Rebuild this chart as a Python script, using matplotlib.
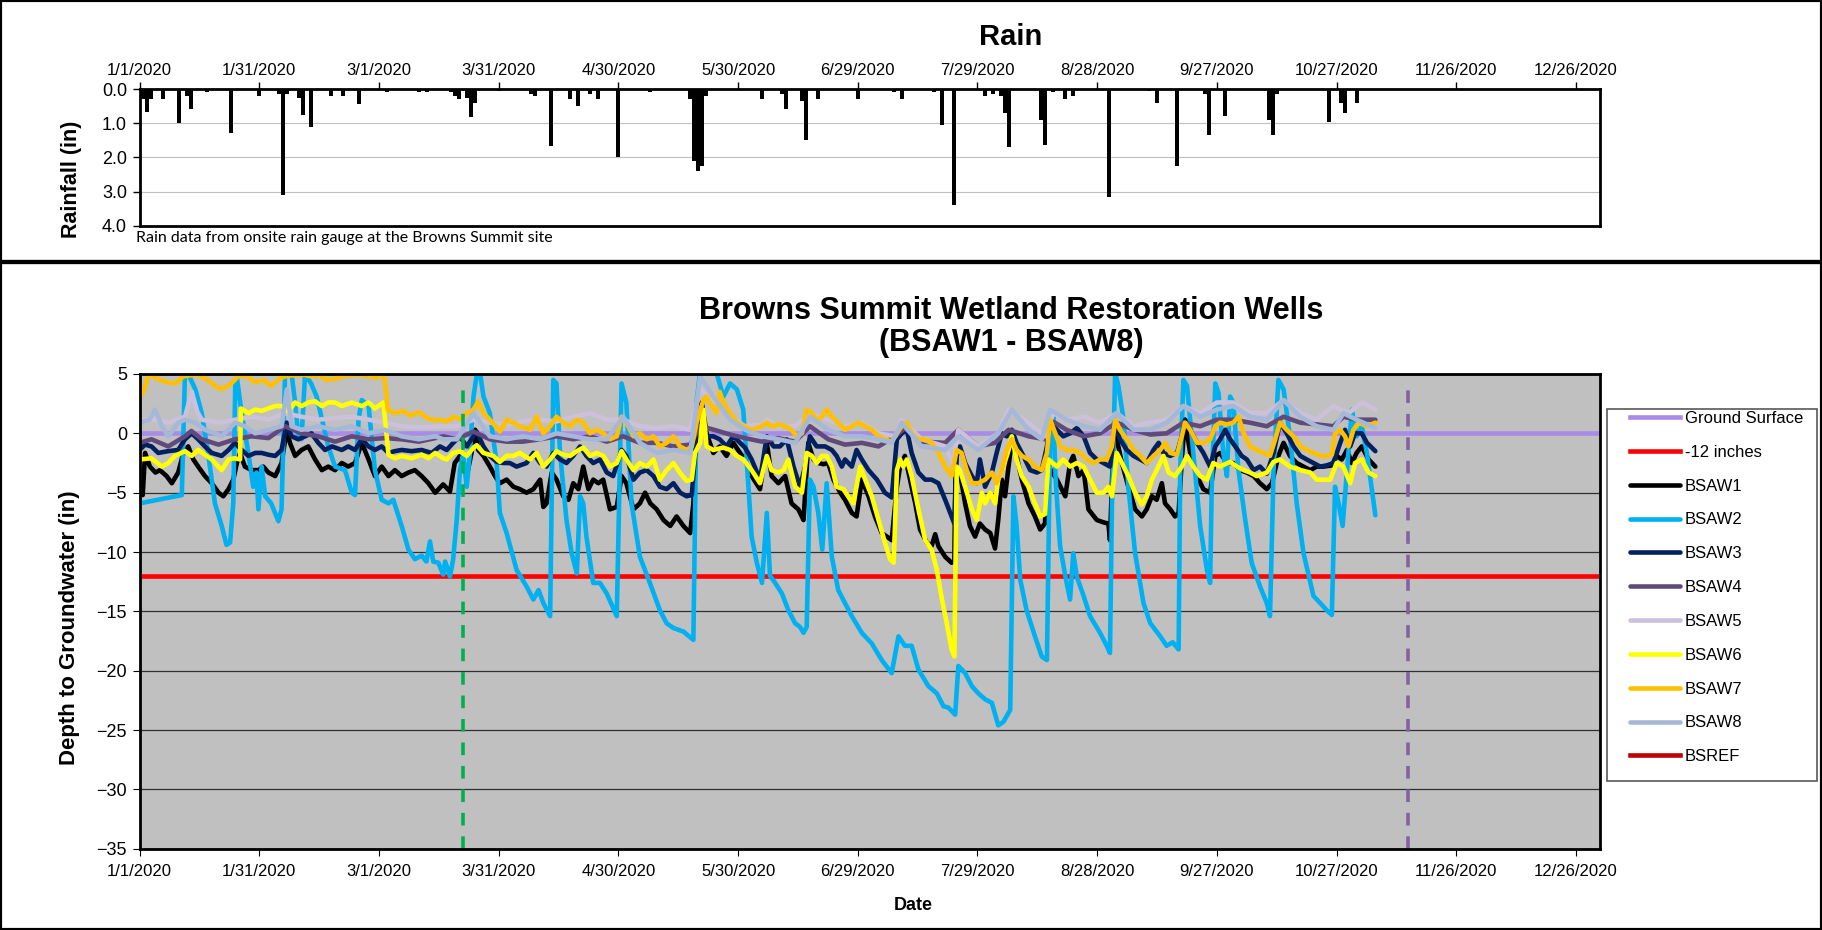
import matplotlib
matplotlib.use("Agg")
import matplotlib.pyplot as plt
from matplotlib.patches import Rectangle
import pandas as pd

plt.rcParams['font.family'] = ['Liberation Sans', 'DejaVu Sans']

W, H = 1822, 930
start = pd.Timestamp('2020-01-01')
end = pd.Timestamp('2021-01-01')

# rain, days since 1/1/2020 and inches
rain_day = [0, 1, 2, 3, 6, 10, 12, 13, 17, 23, 30, 35, 36, 37, 40, 41, 43, 48, 51, 55,
            62, 70, 72, 78, 79, 80, 82, 83, 84, 90, 98, 99, 103, 108, 110, 113, 115, 120,
            124, 128, 138, 139, 140, 141, 142, 146, 156, 161, 162, 166, 167, 170, 180, 189,
            191, 199, 201, 204, 212, 214, 216, 217, 218, 226, 227, 229, 232, 234, 242, 243,
            253, 255, 260, 267, 268, 272, 283, 284, 285, 289, 298, 301, 302, 305]
rain_in = [0.3, 0.3, 0.68, 0.3, 0.28, 1.0, 0.2, 0.58, 0.1, 1.3, 0.2, 0.15, 3.1, 0.15, 0.25, 0.75, 1.1, 0.2, 0.2, 0.45,
           0.08, 0.08, 0.08, 0.08, 0.2, 0.3, 0.25, 0.83, 0.4, 0.05, 0.15, 0.2, 1.68, 0.3, 0.5, 0.15, 0.28, 2.0,
           0.03, 0.08, 0.3, 2.1, 2.4, 2.25, 0.2, 0.03, 0.3, 0.15, 0.58, 0.35, 1.5, 0.3, 0.3, 0.08,
           0.3, 0.1, 1.05, 3.4, 0.2, 0.15, 0.2, 0.7, 1.7, 0.9, 1.65, 0.08, 0.28, 0.2, 0.03, 3.15,
           0.05, 0.4, 2.25, 0.15, 1.35, 0.8, 0.9, 1.35, 0.15, 0.02, 0.98, 0.4, 0.7, 0.4]

# wells, days since 1/1/2020 and depth to groundwater (in)
bsaw1_day = [0, 0.8, 1.4, 2.6, 4, 5.1, 6.8, 8.1, 9.7, 11, 12.2, 13.5, 14.7, 16.4, 18.1, 19.8, 21, 22.3, 23.5, 24.4,
             25.2, 26.4, 28.1, 29.8, 31, 32.3, 34, 35.6, 36.9, 37.7, 39, 40.6, 42.3, 44, 45.7, 47.3, 49, 50.7, 52.3, 54,
             55.7, 57.4, 59, 60.7, 62.4, 64, 65.7, 67.4, 69, 70.7, 72.4, 74.1, 76.1, 77.8, 79, 80.3, 82, 83.2, 84.1, 84.9,
             86.2, 87.8, 89.1, 90.3, 92, 93.7, 95.3, 97, 98.7, 100.4, 101.2, 102, 103.3, 104.5, 106.2, 107.5, 108.7, 110, 111.2, 112.5,
             113.7, 115, 116.2, 117.9, 119.6, 120.8, 122, 123.8, 125.4, 126.7, 128, 129.6, 131.3, 133, 134.6, 136.3, 138, 138.8, 139.6, 140.9,
             142.1, 143.8, 145.4, 147.1, 148.8, 150.5, 151.75, 153.4, 155.5, 157.2, 158.4, 160.1, 161.8, 163.4, 165.1, 166.4, 167.6, 168.9, 170.1, 171.4,
             172.6, 173.9, 175.6, 176.8, 178.5, 179.7, 181, 182.7, 184.3, 186, 187.3, 188.5, 189.8, 190.6, 191.8, 193.1, 194.4, 195.6, 197.3, 198.5,
             199.4, 200.2, 201.9, 203.5, 204.2, 204.5, 205.6, 206.9, 208.1, 209.4, 210.6, 211.9, 213.2, 214.4, 215.2, 216.1, 216.9, 217.8, 218.6, 219.8,
             221.1, 222.8, 224.4, 225.7, 226.9, 227.8, 229.9, 232, 233.2, 234, 235.3, 236.6, 237.8, 239.9, 241.6, 242.8, 243.2, 244.1, 244.9,
             246.2, 247.8, 249.5, 251.2, 252.4, 253.7, 254.9, 256.2, 257, 258.3, 259.5, 260.4, 261.2, 262, 263.3, 265, 266.6, 268.3, 269.6, 270.8,
             272.5, 274.1, 275.8, 277.5, 279.2, 280.8, 282.5, 283.8, 285.4, 286.7, 288.3, 290, 291.7, 293.4, 295, 296.7, 298.8, 300, 301.3, 302.6,
             303.8, 305, 306.3, 308, 309.7]
bsaw1_in = [-5.0, -5.2, -1.65, -2.8, -3.3, -3.1, -3.6, -4.2, -3.3, -1.65, -1.1, -2.2, -2.8, -3.6, -4.2, -5.0, -5.3, -4.7, -3.9, -2.5,
            -1.65, -2.8, -3.1, -3.1, -2.8, -3.3, -3.6, -2.5, 0.3, -0.8, -1.9, -1.4, -1.1, -2.2, -3.1, -2.8, -3.1, -2.5, -2.8, -2.5,
            -0.8, -2.2, -3.6, -2.8, -3.6, -3.1, -3.6, -3.3, -3.1, -3.6, -4.2, -5.0, -4.3, -4.9, -2.5, -1.9, -3.6, -1.65, 0.3, -1.4,
            -1.9, -2.8, -3.6, -4.2, -3.9, -4.5, -4.7, -5.0, -4.7, -3.9, -6.2, -5.9, -3.3, -3.9, -5.3, -5.6, -4.2, -4.7, -2.8, -4.7,
            -3.9, -4.2, -3.9, -6.4, -6.2, -3.6, -4.2, -6.4, -5.9, -5.0, -5.9, -6.4, -7.3, -7.8, -7.0, -7.8, -8.4, -5.9, -0.25, 2.6,
            0.0, -1.65, -1.1, -1.9, -0.8, -1.65, -2.2, -3.6, -4.7, -0.8, -3.6, -4.2, -3.6, -5.9, -6.4, -7.3, -0.8, -2.2, -2.5, -2.6,
            -2.5, -3.9, -5.0, -5.6, -6.7, -7.0, -3.9, -5.3, -7.0, -8.4, -8.7, -9.0, -4.5, -2.8, -1.9, -3.9, -5.9, -8.1, -9.2, -9.5,
            -8.5, -9.5, -10.4, -10.9, -10.8, -2.8, -3.3, -5.9, -7.8, -8.7, -7.6, -8.1, -8.4, -9.7, -7.3, -3.9, -5.3, -2.8, -0.5, -1.9,
            -3.9, -5.9, -7.0, -8.1, -7.6, -2.8, -3.9, -5.3, -2.5, -1.9, -3.6, -3.1, -6.4, -7.3, -7.5, -7.6, -9.0, -0.25, -0.5,
            -2.5, -4.5, -6.4, -7.0, -6.4, -5.3, -5.6, -4.2, -5.9, -6.4, -7.0, -6.7, -2.2, 1.15, -1.65, -3.6, -4.7, -5.0, -1.9, -1.65,
            -2.5, -2.5, -3.1, -3.3, -3.6, -4.2, -4.7, -4.2, -1.9, -0.8, -1.9, -2.5, -2.8, -3.1, -2.8, -2.8, -2.7, -1.9, -2.2, -1.4,
            -2.5, -1.65, -1.1, -2.2, -2.8]

bsaw2_day = [0, 10.6, 11.4, 12.5, 14, 15.6, 17.2, 18.9, 20.6, 21.8, 22.7, 23.5, 24, 24.4, 25.6, 27.3, 28.5, 29.3, 29.8, 30.6,
             31.5, 33, 34.8, 35.6, 36.5, 38, 39, 39.8, 40.6, 41.5, 43, 44.4, 45.7, 47.3, 49, 51.5, 53.2, 54, 54.9, 55.7,
             57.4, 59, 60.7, 62.4, 63.6, 65.7, 67.4, 69, 70.7, 71.9, 72.8, 73.6, 74.9, 76.1, 76.6, 77.8, 78.6, 79.5, 80.3, 81.1,
             82, 82.8, 83.7, 84.5, 85.3, 86.2, 87.8, 89.5, 90.3, 92, 94.5, 97, 98.7, 100, 101.2, 102.9, 103.7, 104.5, 105.4, 107,
             108.3, 109.6, 110.4, 111.2, 112, 113.7, 115.4, 117.1, 119.6, 120.8, 122, 123.3, 125.4, 127.9, 130.4, 132.1, 133.8, 136.3, 138.8, 139.6,
             140.5, 143, 144.6, 146.3, 148, 149.7, 151.3, 152.6, 153.4, 154.7, 156, 157.2, 158, 159.3, 161, 162.6, 164.3, 165.5, 166.4, 167.2,
             168, 168.9, 170.1, 171.1, 172.2, 173.5, 175.1, 176.8, 178.5, 181, 183.5, 186, 188.5, 190.2, 191.8, 193.5, 195.2, 197.7, 199.8, 201.5,
             202.7, 204.4, 205.2, 206.9, 208.6, 210.2, 211.9, 213.6, 215.2, 216.5, 218.2, 219, 219.8, 220.7, 222.3, 224.4, 226.1, 227.4, 228.2, 229,
             229.6, 230.7, 232, 233.2, 234, 234.9, 236.6, 238.2, 240.7, 242.4, 243.2, 243.7, 244.5, 245.3, 246.6, 247.8, 249.5, 251.6, 253.3, 255.8,
             257.4, 258.9, 260.4, 260.8, 261.6, 262.5, 264.1, 265.8, 267.5, 268.3, 268.7, 269.6, 270.4, 271.6, 272.5, 273.3, 274.1, 275.4, 277.1, 278.7,
             280.8, 282.5, 283.3, 284.2, 285.4, 286.7, 288.3, 290, 291.7, 294.2, 295.9, 297.5, 298.8, 299.6, 300.5, 301.5, 302.6, 303.8, 305, 306.3,
             307.6, 309.7]
bsaw2_in = [-5.9, -5.2, 5.1, 4.8, 3.7, 1.7, -1.7, -5.9, -7.8, -9.4, -9.2, -5.9, 4.2, 4.7, 1.7, -1.7, -4.5, -3.3, -6.4, -2.8,
            -5.3, -5.9, -7.4, -6.4, 5.3, 5.3, 2.6, -0.3, -0.5, 5.0, 4.2, 3.1, 1.2, -1.1, -2.8, -3.1, -5.0, -5.2, 1.2, 2.8,
            2.3, -3.1, -5.6, -5.9, -5.6, -7.8, -9.8, -10.6, -10.3, -10.8, -9.1, -10.8, -10.9, -11.9, -10.8, -12.05, -10.6, -7.3, -3.1, -1.7,
            -4.5, -1.7, 3.1, 4.9, 5.2, 3.1, 1.7, -2.5, -6.7, -8.4, -11.5, -12.9, -14.0, -13.2, -14.3, -15.4, 4.5, 4.2, -1.7, -7.3,
            -10.1, -11.8, -5.3, -5.9, -8.7, -12.6, -12.6, -13.5, -15.4, 4.2, 2.6, -5.9, -10.4, -12.6, -14.9, -16.0, -16.4, -16.7, -17.4, 2.6,
            5.2, 5.5, 5.1, 3.1, 4.2, 3.7, 2.0, -4.5, -8.7, -10.9, -12.6, -6.7, -12.0, -12.6, -13.5, -14.9, -16.0, -16.3, -16.8, -16.3,
            -3.9, -4.5, -6.7, -9.8, -4.2, -10.4, -13.2, -14.3, -15.4, -16.8, -17.7, -19.1, -20.2, -17.1, -17.9, -17.9, -19.9, -21.3, -21.9, -23.0,
            -23.1, -23.7, -19.6, -20.2, -21.3, -21.9, -22.4, -22.7, -24.6, -24.3, -23.3, -5.3, -7.8, -12.3, -14.9, -17.1, -18.8, -19.1, -0.25, 1.5,
            -4.0, -9.5, -12.0, -14.0, -10.1, -12.1, -13.7, -15.4, -16.8, -17.9, -18.5, -5.9, 5.1, 4.0, 1.2, -4.5, -10.1, -14.3, -16.0, -17.1,
            -17.9, -17.6, -18.2, -3.1, 4.5, 4.0, -1.7, -7.8, -11.5, -12.6, -4.5, 4.2, 3.4, -1.7, -3.6, 3.1, 2.6, -3.1, -7.3, -10.9,
            -12.9, -14.3, -15.4, -3.1, 4.5, 3.7, -0.25, -5.9, -10.1, -13.7, -14.3, -14.9, -15.3, -4.5, -5.9, -7.8, -3.1, 2.0, -0.25, 0.6,
            -1.7, -6.9]

bsaw3_day = [0, 1.4, 3, 4.7, 7.2, 9.7, 11.4, 13.1, 14.7, 16.4, 18.1, 20.6, 22.3, 23.9, 25.6, 27.3, 29, 30.6, 32.3, 34,
             35.6, 36.9, 38.1, 39.8, 41.5, 43.1, 44.8, 46.5, 48.2, 50.7, 52.3, 54, 55.7, 57.4, 59, 60.7, 62.4, 64, 65.7, 68.2,
             70.7, 73.2, 75.3, 77, 78.6, 80.3, 82, 83.7, 84.5, 86.2, 87.8, 89.5, 91.2, 92.8, 94.5, 97, 98.7, 100.4, 102, 103.7,
             105.4, 107, 108.7, 110.4, 112, 113.7, 115.4, 117.1, 118.7, 120.8, 122, 123.8, 125.4, 127.1, 128.8, 130.4, 132.1, 133.8, 135.5, 137.1,
             138.4, 139.2, 140.5, 142.1, 143.8, 145.4, 147.1, 148.8, 150.5, 151.75, 153.4, 155.5, 157.2, 158.9, 160.5, 162.2, 163.9, 165.5, 166.8, 168,
             169.7, 171.8, 173.5, 174.7, 176, 176.8, 178.5, 179.7, 181, 182.7, 184.8, 186.8, 188.5, 189.8, 191, 192.3, 193.5, 195.2, 196.9, 198.5,
             200.2, 201.9, 203.5, 204.2, 204.8, 205.6, 206.9, 208.6, 209.8, 210.6, 211.9, 213.6, 214.8, 216.1, 217.3, 218.6, 219.8, 221.5, 223.2, 224.9,
             226.1, 227.4, 228.2, 229.9, 231.5, 233.2, 234.9, 236.6, 238.2, 239.9, 241.6, 243.2, 244.5, 245.7, 247.4, 249.1, 250.8, 252.4, 254.1, 255.4,
             256.6, 258.3, 260, 261.2, 262, 263.3, 265, 266.6, 268.3, 269.6, 270.8, 272.1, 273.3, 274.6, 276.2, 277.5, 279.2, 280.8, 282.5, 284.2,
             285.8, 287.5, 289.2, 290.9, 292.5, 294.2, 295.9, 297.5, 299.2, 300.9, 302.1, 303.4, 304.6, 306.3, 307.6, 309.7]
bsaw3_in = [-1.4, -0.95, -1.1, -1.65, -1.5, -1.4, -0.5, 0.0, -0.5, -1.1, -1.65, -1.9, -1.4, -0.8, -1.4, -1.9, -1.65, -1.65, -1.8, -1.9,
            -1.4, 0.9, -0.25, -0.5, -0.25, 0.0, -0.8, -1.4, -1.1, -1.4, -1.1, -1.4, -0.5, -1.1, -1.4, -1.1, -1.65, -1.5, -1.4, -1.5,
            -1.4, -1.65, -1.1, -1.4, -0.8, -0.25, -1.1, -0.25, 0.15, -1.1, -1.9, -2.4, -2.5, -2.5, -2.8, -2.5, -1.65, -2.5, -2.8, -1.65,
            -2.2, -2.5, -1.9, -1.1, -1.9, -2.5, -2.2, -3.3, -3.6, -1.4, -1.9, -3.9, -3.3, -3.1, -3.6, -4.5, -4.7, -4.2, -5.0, -5.3,
            -5.2, -1.9, 1.4, -0.25, -0.25, -0.5, -1.1, -0.25, -0.8, -1.2, -2.2, -3.9, -0.25, -1.1, -1.1, -0.5, -2.8, -4.5, -2.8, -0.25,
            -1.1, -1.1, -1.4, -1.9, -2.8, -2.2, -2.8, -1.4, -2.2, -3.1, -3.9, -5.0, -5.4, -0.5, 0.0, 0.3, -1.65, -3.3, -3.9, -3.9,
            -4.2, -5.6, -7.0, -7.6, -1.9, -1.1, -2.5, -3.6, -4.2, -2.2, -4.5, -3.3, -1.65, 0.0, -0.25, 0.3, -0.8, -1.9, -3.1, -3.3,
            -3.1, -1.1, 0.9, 0.3, -0.25, 0.0, 0.45, -0.25, -1.65, -2.2, -2.5, -2.8, 0.6, -0.5, -1.4, -1.9, -2.2, -2.5, -1.4, -0.8,
            -1.65, -1.9, -1.65, -0.25, 1.15, 0.3, -0.8, -1.65, -2.8, -1.1, -0.5, 0.3, -0.5, -1.1, -1.9, -2.2, -3.1, -2.8, -3.4, -1.65,
            0.9, 0.0, -1.1, -1.9, -2.2, -2.5, -2.8, -2.7, -2.5, -0.8, 0.3, -1.1, 0.0, 0.0, -0.8, -1.5]

bsaw4_day = [0, 3, 7.2, 11.4, 13, 15.6, 19.8, 23.9, 28.1, 32.3, 36.5, 40.6, 44.8, 49, 53.2, 57.4, 61.5, 65.7, 70, 76.1,
             79.5, 83.7, 87.8, 92, 96, 100.4, 104.5, 108.7, 112.9, 117.1, 121.2, 125.4, 129.6, 133.8, 138, 140.5, 144, 148, 151.75, 156,
             160, 164.3, 168, 172.6, 176.8, 181, 185.2, 189.4, 191.8, 196, 201.9, 205.2, 210.2, 214.4, 217.8, 222.8, 226.9, 228.2, 232.3, 236.6,
             240.7, 244.9, 249.1, 253.3, 257.4, 261.6, 265.8, 270, 274.1, 278.3, 282.5, 286.7, 290.9, 295, 299.2, 301.7, 305, 309.7]
bsaw4_in = [-0.8, -0.5, -1.1, -0.25, 0.2, -0.5, -0.95, -0.5, -0.25, -0.4, 0.6, 0.0, -0.25, -0.7, -0.25, -0.5, -0.4, -0.5, -0.7, -0.25,
            -0.5, 0.15, -0.5, -0.7, -0.7, -0.5, -0.25, -0.5, -0.25, -0.7, -0.25, -0.8, -0.8, -1.1, -0.95, 0.6, 0.3, -0.1, -0.4, -0.7,
            -0.4, -0.7, 0.6, -0.5, -0.95, -0.8, -1.1, -0.25, 0.45, -0.7, -0.8, 0.3, -1.1, -0.8, 0.3, -0.25, -0.5, 1.15, 0.3, -0.25,
            0.0, 0.9, 0.3, -0.1, 0.0, 0.9, 0.6, 1.15, 1.15, 0.9, 0.6, 1.4, 0.9, 0.75, 0.6, 1.4, 1.15, 1.15]

bsaw5_day = [0, 3.9, 7.2, 11.4, 13.1, 14.5, 15.6, 19.8, 24, 28.1, 32.3, 36.5, 40.6, 44.8, 49, 53.2, 57.4, 61.5, 65.7, 70,
             76.1, 79.5, 83.7, 87.8, 92, 96, 100.4, 104.5, 108.7, 112.9, 117.1, 121.2, 125.4, 129.6, 133.8, 138, 140.5, 143.8, 148, 151.75,
             156, 157.2, 160.1, 164.3, 168, 172.6, 176.8, 181, 185.2, 189.4, 191, 196, 201.9, 203.8, 205.2, 210.2, 215.2, 217.8, 222.8, 226.9,
             229, 232.3, 236.6, 240.7, 244.9, 249.1, 253.3, 257.4, 261.6, 265.8, 270, 274.1, 278.3, 282.5, 286.7, 290.9, 295, 299.2, 303, 306.3,
             309.7]
bsaw5_in = [1.15, 1.2, 0.9, 1.4, 3.5, 1.8, 1.15, 0.9, 1.15, 1.4, 1.15, 1.7, 1.4, 1.15, 1.3, 1.4, 1.15, 0.9, 0.6, 0.5,
            0.6, 0.6, 1.15, 0.9, 0.75, 1.0, 1.15, 1.0, 1.4, 1.7, 1.15, 1.15, 0.6, 0.45, 0.6, 0.3, 3.7, 2.8, 1.4, 0.6,
            0.75, 1.15, 0.6, 0.6, 1.7, 1.15, 0.6, 0.9, 0.0, -0.25, 1.15, -0.5, -1.1, -2.5, 0.3, -1.1, 0.0, 2.0, 0.9, -0.25,
            1.7, 1.15, 1.4, 0.9, 1.7, 0.6, 0.9, 1.15, 2.3, 1.7, 2.6, 2.6, 1.7, 1.7, 2.8, 1.7, 1.15, 2.3, 1.7, 2.6,
            2.0]

bsaw6_day = [0, 3, 5.6, 7.2, 8.9, 11.4, 13.1, 14.7, 16.4, 18.1, 20.6, 22.3, 23.9, 25.2, 25.4, 27.3, 29, 30.6, 32.3, 34,
             35.6, 37.3, 39, 40.6, 42.3, 44, 45.7, 47.3, 49, 50.7, 53.2, 55.7, 57.4, 59, 61.1, 62.4, 64, 65.7, 68.2, 70.7,
             72.4, 74.1, 76.1, 77, 78.6, 80.3, 82, 83.7, 84.5, 86.2, 88.7, 90.3, 92, 93.7, 95.3, 97.9, 99.5, 101.2, 102.9, 104.5,
             106.2, 107.9, 109.6, 111.2, 112.9, 114.6, 116.2, 117.9, 119.6, 120.8, 122, 123.8, 125.4, 127.1, 128.8, 130.4, 132.1, 133.8, 135.4, 137.1,
             138.4, 139.2, 140.5, 141.3, 142.1, 143.8, 146.3, 148, 149.7, 151.3, 153.4, 155.5, 157.2, 158.4, 160.1, 161.4, 162.6, 164.3, 166, 167.2,
             168.5, 169.7, 171, 172.2, 173.5, 174.7, 176.4, 177.6, 178.9, 180.6, 182.2, 183.5, 185.2, 186.8, 188.1, 189, 189.8, 190.6, 191.4, 192.3,
             193.5, 195.2, 196.9, 198.5, 199.8, 201.1, 202.3, 203.5, 204.2, 204.8, 205.6, 206.9, 208.6, 209.8, 211.1, 211.9, 213.2, 214.4, 215.2, 216.5,
             217.8, 218.6, 219.8, 221.1, 222.8, 224.4, 225.7, 226.9, 227.8, 229.9, 231.5, 233.2, 234.9, 236.6, 238.2, 239.9, 241.6, 242.8, 243.7,
             244.9, 246.2, 247.8, 249.5, 251.2, 252.4, 253.7, 254.9, 256.6, 257.9, 259.5, 261.2, 262.5, 264.1, 265.8, 267.5, 269.1, 270.8, 273.3, 275,
             276.7, 278.3, 280, 282.5, 284.2, 285.8, 288.3, 290.9, 293.4, 295, 298.4, 300, 301.7, 303.4, 304.6, 306.3, 308, 309.7]
bsaw6_in = [-2.2, -2.1, -2.8, -2.5, -1.9, -1.5, -1.9, -1.4, -1.8, -2.2, -3.1, -2.2, -2.1, -2.2, 2.1, 1.7, 2.0, 1.9, 2.1, 2.3,
            2.3, 1.85, 2.6, 2.3, 2.6, 2.7, 2.3, 2.6, 2.6, 2.3, 2.6, 2.3, 2.6, 2.1, 2.6, -1.8, -2.1, -1.9, -2.1, -1.8,
            -2.1, -1.65, -2.1, -2.2, -1.65, -1.5, -1.9, -1.2, -1.0, -1.65, -1.9, -2.4, -1.9, -1.9, -1.65, -2.2, -1.65, -2.8, -2.2, -1.5,
            -1.8, -1.9, -1.5, -1.2, -1.9, -1.65, -1.9, -2.8, -2.5, -1.5, -2.2, -3.1, -2.5, -2.8, -2.2, -3.9, -3.1, -2.5, -3.3, -4.0,
            -3.9, -1.65, -0.8, 2.0, -1.1, -1.4, -1.2, -1.4, -1.9, -2.2, -3.1, -4.2, -1.9, -3.1, -3.3, -3.1, -2.2, -4.5, -5.0, -1.65,
            -1.9, -2.5, -1.9, -1.9, -2.8, -4.5, -4.7, -5.3, -5.9, -2.8, -4.2, -5.3, -7.3, -9.2, -10.6, -10.9, -3.1, -2.2, -2.8, -2.2,
            -3.6, -6.4, -9.0, -9.8, -11.5, -14.0, -16.0, -18.2, -18.8, -2.8, -3.1, -4.5, -6.4, -7.3, -5.0, -5.9, -5.0, -5.9, -3.9, -2.8,
            -1.4, -0.25, -2.2, -3.6, -4.5, -5.9, -7.0, -6.8, -2.2, -2.8, -2.2, -2.8, -2.5, -2.8, -3.9, -5.0, -5.0, -4.5, -5.3,
            -1.65, -2.5, -3.6, -5.0, -6.0, -5.3, -3.9, -3.1, -1.9, -3.3, -3.6, -2.8, -1.9, -2.8, -3.6, -3.9, -2.5, -2.8, -2.4, -2.8,
            -3.1, -3.3, -3.6, -3.3, -2.4, -2.2, -2.8, -3.1, -3.3, -3.9, -3.9, -2.5, -2.8, -4.2, -2.5, -2.2, -3.3, -3.6]

bsaw7_day = [0, 1, 2, 3, 5, 7, 9, 11, 13, 15, 17, 19, 20.6, 23, 25, 27, 29, 31, 33, 35,
             37, 39, 41, 43, 45, 47, 49, 51, 53, 55, 57, 59, 61.3, 62.2, 64, 66, 68, 70, 72, 74,
             75.3, 77, 78.6, 80.3, 82, 83.7, 84.9, 86.2, 87.8, 90.3, 92, 93.7, 95.3, 97.9, 99.5, 101.2, 102.9, 104.5, 106.2, 107.9,
             109.6, 111.2, 112.9, 114.6, 116.2, 117.9, 119.6, 120.8, 122, 123.8, 125.4, 127.1, 128.8, 130.4, 132.1, 133.8, 135.4, 137.1, 138.4, 139.6,
             141.3, 142.1, 143, 144.6, 145.4, 146.3, 148, 149.7, 151.3, 153.4, 155.9, 157.2, 158.4, 160.1, 161.8, 163.4, 164.7, 166, 167.2, 168.5,
             169.7, 171, 172.2, 173.5, 175.1, 176.8, 178.5, 180.2, 181.8, 183.5, 185.2, 186.8, 188.5, 189.8, 191, 192.3, 193.5, 195.2, 196.9, 198.5,
             200.2, 201.9, 203.5, 204.8, 206, 207.3, 208.6, 210.2, 211.9, 213.6, 214.8, 216.1, 217.3, 218.6, 219.8, 221.1, 222.8, 224.4, 226.1, 227.4,
             228.2, 229.5, 230.7, 232.3, 234, 235.7, 237.4, 239.1, 240.7, 242.4, 243.7, 244.5, 245.7, 247.4, 249.1, 250.8, 252.4, 254.1, 255.8, 257,
             258.3, 260, 261.2, 262, 263.3, 265, 266.6, 268.3, 269.6, 270.8, 272.5, 274.1, 275.4, 276.7, 278.3, 280, 281.7, 283.3, 284.6, 285.8,
             287.5, 289.2, 290.9, 292.5, 294.2, 295.9, 297.5, 298.8, 299.6, 300.9, 302.1, 303, 304.2, 305.5, 307.6, 309.7]
bsaw7_in = [3.0, 3.5, 4.7, 4.9, 4.5, 4.3, 4.2, 4.8, 4.9, 4.9, 4.5, 4.0, 3.7, 4.2, 4.9, 4.8, 4.3, 4.5, 4.0, 4.6,
            4.85, 4.9, 4.95, 4.8, 4.9, 4.5, 4.6, 4.8, 4.9, 4.95, 4.85, 4.7, 4.9, 2.0, 1.7, 1.9, 1.5, 1.8, 1.3, 1.1,
            1.15, 1.0, 1.4, 1.2, 1.7, 2.0, 2.7, 1.7, 1.15, 0.15, 1.15, 0.9, 0.6, 0.3, 1.4, 0.0, 0.6, 1.4, 0.9, 0.6,
            1.15, 0.9, 0.0, 0.3, 0.0, -0.5, -0.25, 1.4, 0.9, -0.25, 0.0, -0.5, -0.25, -1.1, -0.8, -0.25, -1.1, -1.4, -1.1, 0.9,
            2.8, 3.1, 2.5, 1.7, 3.5, 2.6, 1.7, 0.9, 0.6, 0.3, 0.6, 0.9, 0.6, 0.75, 0.6, 0.3, -0.25, 0.0, 2.0, 1.7,
            1.15, 1.4, 2.0, 1.4, 0.9, 0.3, 0.6, 0.9, 0.6, 0.3, -0.25, -0.5, -0.7, 0.0, 0.6, 0.9, 0.0, -0.5, -0.5, -0.8,
            -1.65, -2.8, -3.6, -1.4, -1.65, -3.1, -4.2, -4.2, -3.9, -3.3, -4.2, -3.1, -1.4, -0.5, -1.4, -1.9, -2.2, -2.8, -3.1, -1.65,
            1.15, 0.0, -1.1, -1.4, -1.4, -1.65, -2.2, -2.5, -2.2, -2.2, -1.1, 1.15, 0.3, -0.5, -1.4, -1.9, -2.5, -1.9, -1.4, -0.8,
            -1.65, -1.8, -0.25, 0.9, 0.3, -0.8, -0.8, -0.5, 0.6, 0.9, 0.75, 0.9, 1.4, 0.0, -1.1, -1.4, -1.65, -1.9, -0.5, 0.9,
            0.3, -0.25, -1.1, -1.4, -1.65, -1.9, -1.9, -1.8, 0.0, 0.3, -0.25, -1.1, 0.3, 0.9, 0.6, 0.9]

bsaw8_day = [0, 2.5, 3.9, 5.6, 7.2, 9.7, 11.4, 14, 16.4, 19, 20.6, 24, 26.4, 29, 32.3, 35.6, 36.9, 38.1, 40.6, 44.8,
             49, 53.2, 57.4, 61.5, 65.7, 70, 74.1, 76.1, 79.5, 83.7, 87.8, 92, 96, 100.4, 104.5, 108.7, 112.9, 117.1, 121.2, 125.4,
             129.6, 133.8, 138, 140.5, 143.8, 148, 151.75, 156, 160.1, 164.3, 168, 172.6, 176.8, 181, 185.2, 188.5, 191, 196, 201.9, 205.2,
             210.2, 215.2, 218.6, 222.8, 226.1, 228.2, 232.3, 236.6, 240.7, 244.9, 249.1, 253.3, 257.4, 261.6, 265.8, 270, 274.1, 278.3, 282.5, 286.7,
             290.9, 295, 299.2, 301.7, 305, 309.7]
bsaw8_in = [0.9, 1.15, 2.0, 0.6, -0.25, 0.9, 1.15, 0.9, 0.3, 0.0, -0.25, 0.9, 0.6, 0.0, 0.3, 0.6, 3.7, 0.6, 0.3, 0.6,
            0.3, 0.6, 0.0, 0.3, -0.25, -0.5, -0.25, -0.5, -0.5, 1.7, -0.25, -0.5, -0.25, -0.5, 0.0, -0.25, -0.5, -0.5, 1.4, -0.8,
            -1.65, -1.4, -1.65, 4.8, 3.1, 1.15, 0.3, -0.25, -0.5, -0.8, 1.4, 0.3, -0.25, -0.25, -0.5, -0.8, 0.9, -1.1, -1.4, -0.25,
            -1.4, 0.0, 2.0, 0.3, -0.5, 2.0, 1.15, 0.6, 0.3, 1.7, 0.3, 0.3, 0.9, 2.3, 1.4, 2.0, 2.3, 1.4, 1.15, 2.8,
            1.4, 0.6, 0.3, 1.7, 1.15, 0.45]

ground_surface = 0
target_depth = -12
green_line_day = 81
purple_line_day = 318
tick_days = list(range(0, 361, 30))


def to_dates(days):
    return start + pd.to_timedelta(days, unit='D')


fig = plt.figure(figsize=(W / 100, H / 100), dpi=100)

tick_dates = to_dates(tick_days)
tick_labels = [f"{d.month}/{d.day}/{d.year}" for d in tick_dates]

# ---- rain panel ----
ax_r = fig.add_axes([139.5 / W, 1 - 225.7 / H, 1460.5 / W, 136.7 / H])
ax_r.bar(to_dates(rain_day), rain_in, width=1.0, color='black', zorder=3)
ax_r.set_xlim(start, end)
ax_r.set_ylim(4, 0)
ax_r.set_yticks([0, 1, 2, 3, 4])
ax_r.set_yticklabels([f"{v:.1f}" for v in [0, 1, 2, 3, 4]], fontsize=13)
ax_r.xaxis.tick_top()
ax_r.set_xticks(tick_dates)
ax_r.set_xticklabels(tick_labels, fontsize=12)
ax_r.tick_params(axis='x', which='both', direction='out', length=5, width=1, pad=3)
ax_r.tick_params(axis='y', direction='out', length=5, width=1, pad=4)
ax_r.grid(axis='y', color='#BFBFBF', lw=0.8, zorder=0)
for s in ax_r.spines.values():
    s.set_linewidth(2)
    s.set_color('black')

fig.text(1011 / W, 1 - 37 / H, 'Rain', ha='center', va='center', fontsize=21, fontweight='bold')
fig.text(71 / W, 1 - 179 / H, 'Rainfall (in)', ha='center', va='center', rotation=90,
         fontsize=15.5, fontweight='bold')
fig.text(136 / W, 1 - 238 / H, 'Rain data from onsite rain gauge at the Browns Summit site',
         ha='left', va='center', fontsize=11.5, family=['Lato', 'DejaVu Sans'])

# ---- wells panel ----
ax = fig.add_axes([139.5 / W, 1 - 848.8 / H, 1460.5 / W, 474.8 / H])
ax.set_facecolor('#C0C0C0')
ax.set_xlim(start, end)
ax.set_ylim(-35, 5)
ax.set_yticks(range(-35, 6, 5))
ax.tick_params(axis='y', labelsize=13, direction='out', length=5, pad=4)
ax.set_xticks(tick_dates)
ax.set_xticklabels(tick_labels, fontsize=12)
ax.tick_params(axis='x', direction='out', length=5, pad=6)
ax.grid(axis='y', color='#303030', lw=0.9, zorder=1)
for s in ax.spines.values():
    s.set_linewidth(2)
    s.set_color('black')
    s.set_zorder(20)

lw = 3.3
ax.axhline(ground_surface, color='#A98BE8', lw=lw, zorder=2, label='Ground Surface')
ax.axhline(target_depth, color='#FF0000', lw=lw, zorder=2.1, label='-12 inches')

series = [
    ('BSAW1', bsaw1_day, bsaw1_in, '#000000'),
    ('BSAW2', bsaw2_day, bsaw2_in, '#00B0F0'),
    ('BSAW3', bsaw3_day, bsaw3_in, '#002060'),
    ('BSAW4', bsaw4_day, bsaw4_in, '#604A7B'),
    ('BSAW5', bsaw5_day, bsaw5_in, '#CCC0DA'),
    ('BSAW6', bsaw6_day, bsaw6_in, '#FFFF00'),
    ('BSAW7', bsaw7_day, bsaw7_in, '#FFC000'),
    ('BSAW8', bsaw8_day, bsaw8_in, '#A6B8D8'),
]
for i, (name, d, v, c) in enumerate(series):
    ax.plot(to_dates(d), v, color=c, lw=lw, zorder=3 + i * 0.1, label=name,
            solid_joinstyle='round', solid_capstyle='round')
ax.plot([], [], color='#C00000', lw=lw, label='BSREF')

ax.plot(to_dates([green_line_day, green_line_day]), [-35, 4], color='#00B050', lw=2.6,
        ls=(0, (3.5, 3)), zorder=10)
ax.plot(to_dates([purple_line_day, purple_line_day]), [-35, 4], color='#8064A2', lw=2.6,
        ls=(0, (3.5, 3)), zorder=10)

fig.text(1011 / W, 1 - 327 / H, 'Browns Summit Wetland Restoration Wells\n(BSAW1 - BSAW8)',
         ha='center', va='center', fontsize=22, fontweight='bold', linespacing=1.1)
fig.text(70 / W, 1 - 628 / H, 'Depth to Groundwater (in)', ha='center', va='center',
         rotation=90, fontsize=16, fontweight='bold')
fig.text(913 / W, 1 - 905 / H, 'Date', ha='center', va='center', fontsize=13, fontweight='bold')

handles, labels = ax.get_legend_handles_labels()
leg = fig.legend(handles, labels, loc='upper left', bbox_to_anchor=(1630 / W, 1 - 411 / H),
                 frameon=False, fontsize=12, borderpad=0, borderaxespad=0,
                 handlelength=3.0, handletextpad=0.3, labelspacing=1.13)
fig.add_artist(Rectangle((1607 / W, 1 - 781 / H), 210 / W, 372 / H, transform=fig.transFigure,
                         fill=False, edgecolor='#595959', lw=1.2))

# panel frames
fig.add_artist(Rectangle((0, 1 - 262 / H), 1, 262 / H, transform=fig.transFigure,
                         fill=False, edgecolor='black', lw=3, clip_on=False))
fig.add_artist(Rectangle((0, 0), 1, 1 - 262 / H, transform=fig.transFigure,
                         fill=False, edgecolor='black', lw=3, clip_on=False))

fig.savefig('out.png', dpi=100)
